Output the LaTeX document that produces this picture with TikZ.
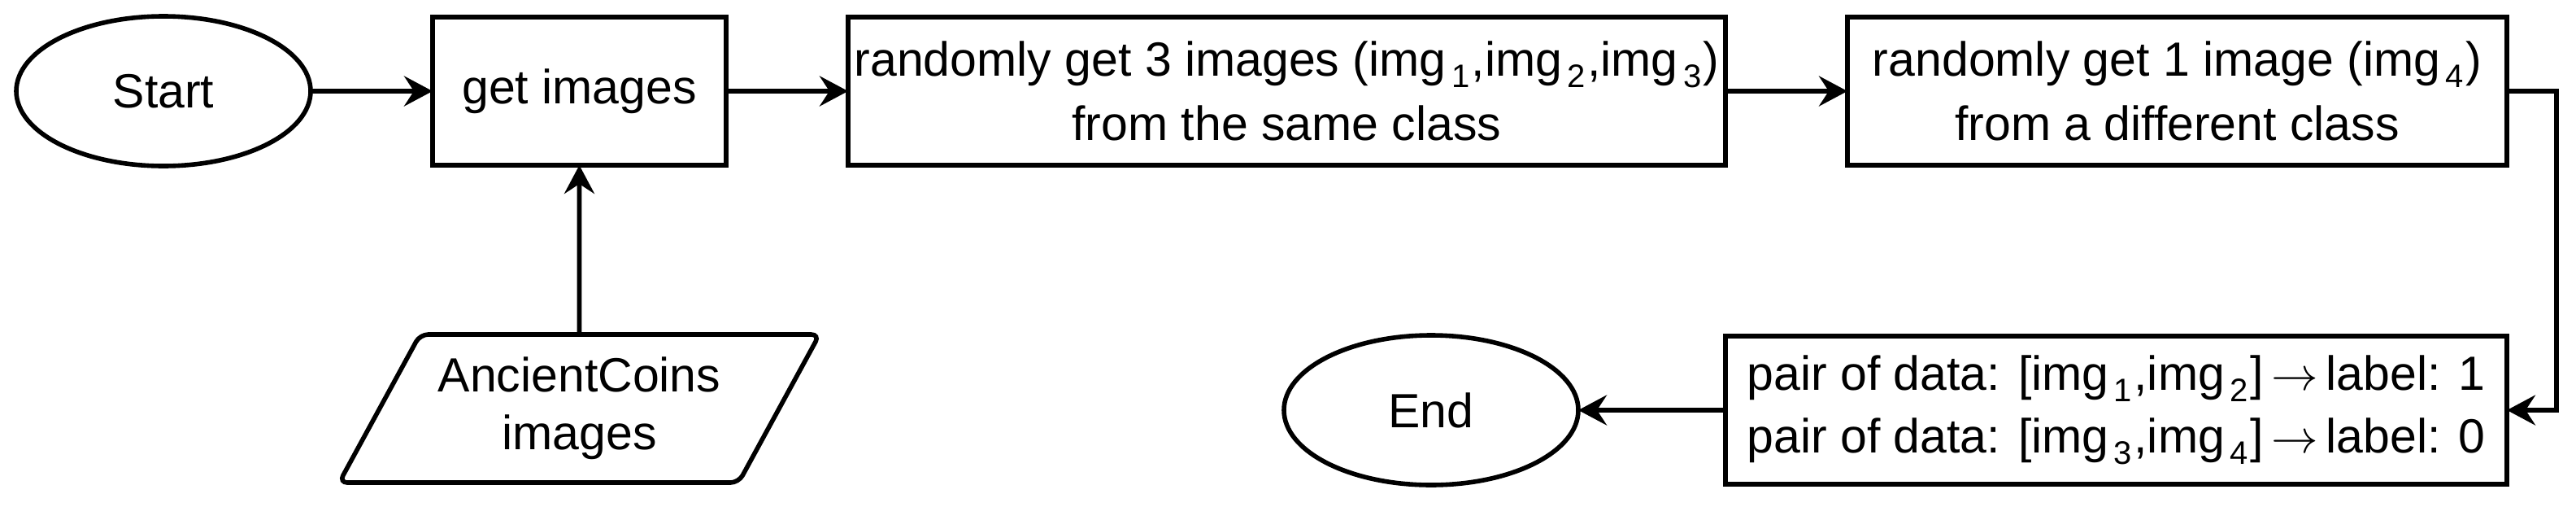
\documentclass[tikz,border=0pt]{standalone}
\usepackage{fontspec}
\setmainfont{Liberation Sans}
\usetikzlibrary{arrows.meta,positioning,shapes.geometric}
\newcommand\idx[1]{\kern1.6pt\raisebox{-0.24em}{\fontsize{10pt}{10pt}\selectfont#1}\kern0.6pt}

\begin{document}
\begin{tikzpicture}[node distance=37.5pt,line width=1.4pt,
    every node/.style={font=\fontsize{14.75pt}{17.75pt}\selectfont,inner sep=0pt,outer sep=0pt,align=center},
    term/.style={draw,ellipse,minimum width=90.5pt,minimum height=46pt},
    proc/.style={draw,rectangle,minimum height=45.5pt},
    data/.style={draw,trapezium,trapezium left angle=55,trapezium right angle=125,trapezium stretches,
        minimum width=147.75pt,minimum height=45.5pt,rounded corners=2.5pt},
    flow/.style={-{Stealth[length=8.75pt,width=9.25pt,inset=3pt]}}]
    \useasboundingbox (0,0) rectangle (792pt,-155.5pt);
    \node[term] (start) at (50.25pt,-28pt) {Start};
    \node[proc,minimum width=90.25pt,right=of start] (get) {get images};
    \node[proc,minimum width=269.75pt,right=of get] (same)
        {randomly get 3 images (img\idx{1},img\idx{2},img\idx{3})\\[2pt]from the same class};
    \node[proc,minimum width=202.75pt,right=of same] (diff)
        {randomly get 1 image (img\idx{4})\\[2pt]from a different class};
    \node[data,below=52pt of get] (coins) {AncientCoins\\images};
    \node[proc,minimum width=240.25pt,below=52.5pt of diff.south east,anchor=north east] (pairs)
        {pair of data: [img\idx{1},img\idx{2}]\,$\rightarrow$\,label: 1\\[1.5pt]pair of data: [img\idx{3},img\idx{4}]\,$\rightarrow$\,label: 0};
    \node[term,left=45.25pt of pairs] (stop) {End};
    \draw[flow] (start) -- (get);
    \draw[flow] (get) -- (same);
    \draw[flow] (same) -- (diff);
    \draw[flow] (coins) -- (get);
    \draw[flow] (diff.east) -- ++(15.25pt,0) |- (pairs.east);
    \draw[flow] (pairs) -- (stop);
\end{tikzpicture}
\end{document}
